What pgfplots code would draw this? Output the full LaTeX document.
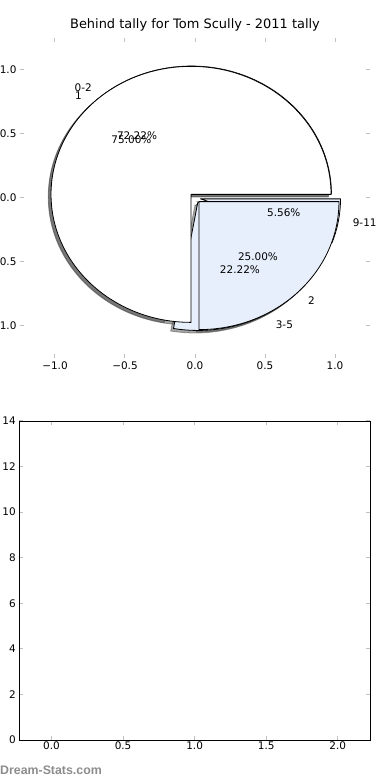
\documentclass[border=0pt]{standalone}
\usepackage{fontspec}
\setmainfont{DejaVu Sans}
\newfontfamily\wmfont{Liberation Sans}
\usepackage{pgfplots}
\pgfplotsset{compat=1.18}
\definecolor{lblue}{RGB}{232,239,252}
\definecolor{tickgray}{RGB}{192,192,192}
\newcommand{\lbl}{\fontsize{10.5}{12}\selectfont}
\tikzset{
  wedgeW/.style={fill=white, draw=black, line width=0.8bp, line join=round},
  wedgeB/.style={fill=lblue, draw=black, line width=0.8bp, line join=round},
  shad/.style={fill=black!70, draw=black!70, line width=0.8bp, opacity=0.5},
}
\begin{document}
\begin{tikzpicture}
\begin{axis}[
  at={(20bp,422bp)}, anchor=south west,
  width=350bp, height=320bp, scale only axis,
  xmin=-1.25, xmax=1.25, ymin=-1.25, ymax=1.25,
  axis line style={draw=none},
  tick pos=both, tick align=inside,
  major tick length=4bp,
  tick style={color=tickgray, line width=1bp},
  xtick={-1,-0.5,0,0.5,1},
  xticklabels={−1.0,−0.5,0.0,0.5,1.0},
  ytick={-1,-0.5,0,0.5,1},
  yticklabels={−1.0,−0.5,0.0,0.5,1.0},
  tick label style={font=\lbl},
  title={Behind tally for Tom Scully - 2011 tally},
  title style={at={(0.5,1)}, anchor=base, yshift=3.5bp, font=\fontsize{13}{15}\selectfont},
  clip=false,
]
% Pie B: 0-2 = 13 (72.22%), 3-5 = 4 (22.22%), 9-11 = 1 (5.56%); Pie A: 1 = 75.00%, 2 = 25.00%
% every wedge exploded by 0.04 along its mid angle; shadows offset by (-0.02,-0.02)
% --- shadows ---
\filldraw[shad] (axis cs:-0.0457,0.0106) -- (axis cs:0.9543,0.0106) arc[start angle=0, end angle=260, radius=1] -- cycle;
\filldraw[shad] (axis cs:0.0,-0.0546) -- (axis cs:-0.173648,-1.039408) arc[start angle=260, end angle=340, radius=1] -- cycle;
\filldraw[shad] (axis cs:0.0194,-0.0269) -- (axis cs:0.959093,-0.368920) arc[start angle=340, end angle=360, radius=1] -- cycle;
\filldraw[shad] (axis cs:-0.0483,0.0083) -- (axis cs:0.9517,0.0083) arc[start angle=0, end angle=270, radius=1] -- cycle;
\filldraw[shad] (axis cs:0.0083,-0.0483) -- (axis cs:0.0083,-1.0483) arc[start angle=270, end angle=360, radius=1] -- cycle;
% --- pie B wedges ---
\filldraw[wedgeW] (axis cs:-0.0257,0.0306) -- (axis cs:0.9743,0.0306) arc[start angle=0, end angle=260, radius=1] -- cycle;
\filldraw[wedgeB] (axis cs:0.0200,-0.0346) -- (axis cs:-0.153648,-1.019408) arc[start angle=260, end angle=340, radius=1] -- cycle;
\filldraw[wedgeB] (axis cs:0.0394,-0.0069) -- (axis cs:0.979093,-0.348920) arc[start angle=340, end angle=360, radius=1] -- cycle;
% --- pie A wedges ---
\filldraw[wedgeW] (axis cs:-0.0283,0.0283) -- (axis cs:0.9717,0.0283) arc[start angle=0, end angle=270, radius=1] -- cycle;
\filldraw[wedgeB] (axis cs:0.0283,-0.0283) -- (axis cs:0.0283,-1.0283) arc[start angle=270, end angle=360, radius=1] -- cycle;
% labels
\node[anchor=east, inner sep=0, font=\lbl] at (axis cs:-0.736,0.86) {0-2};
\node[anchor=east, inner sep=0, font=\lbl] at (axis cs:-0.807,0.80) {1};
\node[anchor=west, inner sep=0, font=\lbl] at (axis cs:1.126,-0.194) {9-11};
\node[anchor=west, inner sep=0, font=\lbl] at (axis cs:0.807,-0.805) {2};
\node[anchor=west, inner sep=0, font=\lbl] at (axis cs:0.576,-0.988) {3-5};
\node[inner sep=0, font=\lbl] at (axis cs:-0.414,0.49) {72.22\%};
\node[inner sep=0, font=\lbl] at (axis cs:-0.454,0.453) {75.00\%};
\node[inner sep=0, font=\lbl] at (axis cs:0.634,-0.112) {5.56\%};
\node[inner sep=0, font=\lbl] at (axis cs:0.45,-0.455) {25.00\%};
\node[inner sep=0, font=\lbl] at (axis cs:0.321,-0.559) {22.22\%};
\end{axis}
\begin{axis}[
  at={(19.3bp,40bp)}, anchor=south west,
  width=350.7bp, height=319bp, scale only axis,
  xmin=-0.225, xmax=2.225, ymin=0, ymax=14,
  axis line style={draw=black, line width=0.8bp},
  tick pos=both, tick align=inside,
  major tick length=4bp,
  tick style={color=tickgray, line width=1bp},
  xtick={0,0.5,1,1.5,2},
  xticklabels={0.0,0.5,1.0,1.5,2.0},
  ytick={0,2,4,6,8,10,12,14},
  yticklabels={0,2,4,6,8,10,12,14},
  tick label style={font=\lbl},
  xticklabel style={yshift=2bp},
]
\end{axis}
\node[anchor=base west, inner sep=0, text=black!45, font=\wmfont\bfseries\fontsize{12.4}{14}\selectfont] at (0bp,5.5bp) {Dream-Stats.com};
\pgfresetboundingbox
\path[use as bounding box] (0bp,0bp) rectangle (390bp,780bp);
\end{tikzpicture}
\end{document}
